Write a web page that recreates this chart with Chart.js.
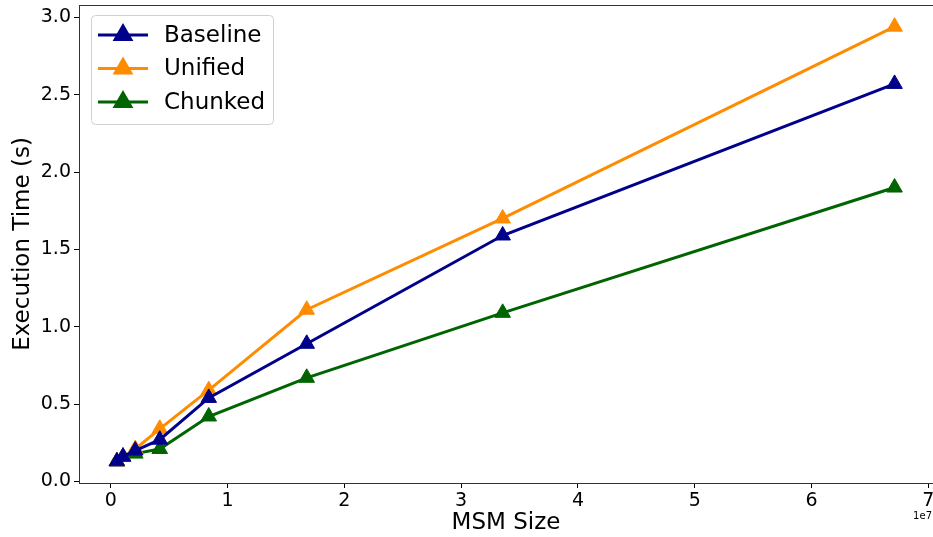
<!DOCTYPE html>
<html>
<head>
<meta charset="utf-8">
<script src="https://cdn.jsdelivr.net/npm/chart.js@4"></script>
<style>
  html, body { margin: 0; padding: 0; background: #fff; }
  #wrap { width: 933px; height: 537px; }
</style>
</head>
<body>
<div id="wrap"><canvas id="myChart"></canvas></div>
<script>
// MSM sizes (2^19 .. 2^26)
const msmSizes = [524288, 1048576, 2097152, 4194304, 8388608, 16777216, 33554432, 67108864];
const baseline = [0.13, 0.16, 0.20, 0.27, 0.54, 0.89, 1.59, 2.57];
const unified  = [0.13, 0.16, 0.21, 0.34, 0.59, 1.11, 1.70, 2.94];
const chunked  = [0.13, 0.16, 0.18, 0.21, 0.42, 0.67, 1.09, 1.90];
const xTicks = [0, 1e7, 2e7, 3e7, 4e7, 5e7, 6e7, 7e7];
const yTicks = [0, 0.5, 1.0, 1.5, 2.0, 2.5, 3.0];

Chart.defaults.font.family = 'DejaVu Sans';
Chart.defaults.color = '#000';

function toPoints(ys) {
    return msmSizes.map((x, i) => ({ x: x, y: ys[i] }));
}

function makeSet(label, ys, color) {
    return {
        label: label,
        data: toPoints(ys),
        borderColor: color,
        backgroundColor: color,
        borderWidth: 3,
        pointStyle: 'triangle',
        pointRadius: 9,
        pointHoverRadius: 9,
        pointBorderWidth: 1,
        clip: false
    };
}

function noPad(s) {
    s.paddingTop = 0;
    s.paddingBottom = 0;
    s.paddingLeft = 0;
    s.paddingRight = 0;
}

// frame, inside legend and the "1e7" offset label
const extras = {
    id: 'extras',
    afterDraw(chart) {
        const ctx = chart.ctx;
        const a = chart.chartArea;
        ctx.save();
        ctx.strokeStyle = '#333';
        ctx.lineWidth = 1;
        ctx.strokeRect(a.left + 0.5, a.top + 0.5, a.right - a.left, a.bottom - a.top);

        // legend box
        const lx = 91, ly = 15, lw = 182, lh = 109;
        ctx.fillStyle = 'rgba(255,255,255,0.8)';
        ctx.strokeStyle = '#d0d0d0';
        ctx.beginPath();
        ctx.roundRect(lx + 0.5, ly + 0.5, lw, lh, 4);
        ctx.fill();
        ctx.stroke();
        chart.data.datasets.forEach((ds, i) => {
            const y = 35 + i * 33.5;
            ctx.strokeStyle = ds.borderColor;
            ctx.lineWidth = 3;
            ctx.beginPath();
            ctx.moveTo(98, y);
            ctx.lineTo(148, y);
            ctx.stroke();
            ctx.fillStyle = ds.borderColor;
            Chart.helpers.drawPoint(ctx, { pointStyle: 'triangle', radius: 9, borderWidth: 1 }, 123, y);
            ctx.fill();
            ctx.fillStyle = '#000';
            ctx.font = '23px DejaVu Sans';
            ctx.textBaseline = 'middle';
            ctx.textAlign = 'left';
            ctx.fillText(ds.label, 164, y + 1);
        });

        ctx.font = '10px DejaVu Sans';
        ctx.fillStyle = '#000';
        ctx.textAlign = 'right';
        ctx.textBaseline = 'middle';
        ctx.fillText('1e7', 932, 516);
        ctx.restore();
    }
};

new Chart(document.getElementById('myChart'), {
    type: 'line',
    data: {
        datasets: [
            makeSet('Baseline', baseline, '#00008B'),
            makeSet('Unified', unified, '#FF8C00'),
            makeSet('Chunked', chunked, '#006400')
        ]
    },
    options: {
        responsive: true,
        maintainAspectRatio: false,
        animation: false,
        layout: { autoPadding: false, padding: { top: 5, right: 0, left: 0, bottom: 0 } },
        plugins: {
            legend: { display: false },
            tooltip: { enabled: false }
        },
        scales: {
            x: {
                type: 'linear',
                min: -2.72e6,
                max: 7.04e7,
                afterBuildTicks: s => { s.ticks = xTicks.map(v => ({ value: v })); },
                afterFit: s => { s.height = 54; noPad(s); },
                ticks: {
                    font: { size: 19 },
                    padding: 2,
                    maxRotation: 0,
                    callback: v => String(v / 1e7)
                },
                grid: {
                    drawOnChartArea: false,
                    tickLength: 5,
                    color: '#000'
                },
                border: { display: false },
                title: {
                    display: true,
                    text: 'MSM Size',
                    font: { size: 23 },
                    padding: { top: 0, bottom: 0 }
                }
            },
            y: {
                min: -0.01,
                max: 3.08,
                afterBuildTicks: s => { s.ticks = yTicks.map(v => ({ value: v })); },
                afterFit: s => { s.width = 79; noPad(s); },
                ticks: {
                    font: { size: 19 },
                    padding: 3,
                    callback: v => v.toFixed(1)
                },
                grid: {
                    drawOnChartArea: false,
                    tickLength: 5,
                    color: '#000'
                },
                border: { display: false },
                title: {
                    display: true,
                    text: 'Execution Time (s)',
                    font: { size: 23 },
                    padding: { top: 9, bottom: 0 }
                }
            }
        }
    },
    plugins: [extras]
});
</script>
</body>
</html>
